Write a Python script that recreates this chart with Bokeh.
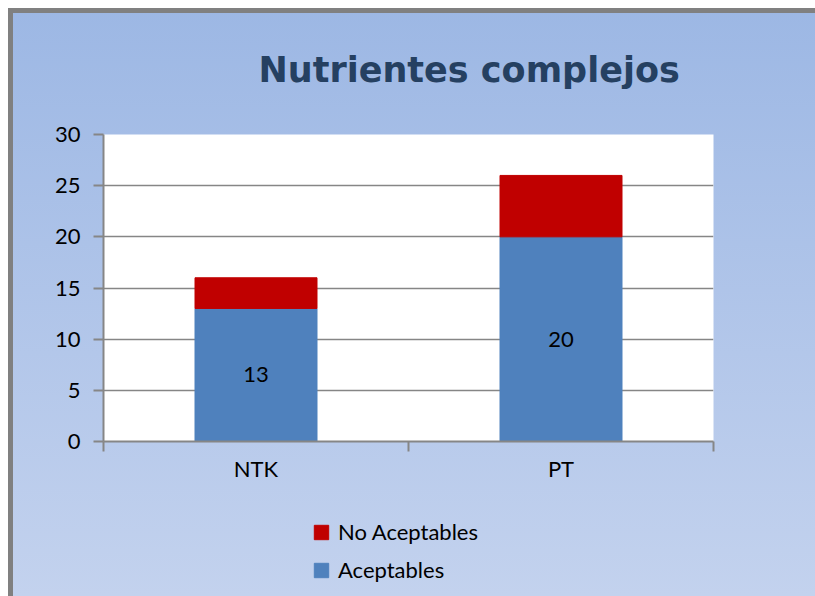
from bokeh.plotting import figure
from bokeh.layouts import column
from bokeh.models import Range1d, FixedTicker, Legend, LegendItem, ColumnDataSource
from bokeh.embed import file_html
from bokeh.resources import INLINE
from bokeh.core.properties import value

categories = ["NTK", "PT"]
aceptables = [13, 20]
no_aceptables = [3, 6]
y_ticks = [0, 5, 10, 15, 20, 25, 30]
series_names = ["Aceptables", "No Aceptables"]
series_colors = ["#4f81bd", "#c00000"]

FONT = "Lato"
GRAY = "#868686"

x = [i + 0.5 for i in range(len(categories))]
src = ColumnDataSource(dict(
    x=x,
    acc=aceptables,
    noacc=no_aceptables,
    mid=[a / 2 for a in aceptables],
    lbl=[str(a) for a in aceptables],
))

p = figure(width=815, height=490, output_backend="svg", toolbar_location=None,
           x_range=Range1d(0, len(categories)), y_range=Range1d(0, 30),
           min_border_left=103, min_border_right=102, min_border_top=134,
           min_border_bottom=49)

p.border_fill_color = None
p.background_fill_color = "white"
p.outline_line_color = None

p.title.text = "Nutrientes complejos"
p.title.align = "left"
p.title.offset = 155
p.title.text_font = "DejaVu Sans"
p.title.text_font_style = "bold"
p.title.text_font_size = "35px"
p.title.text_color = "#254061"
p.title.standoff = 90

rs = p.vbar_stack(["acc", "noacc"], x="x", width=0.4,
                  color=series_colors, source=src)

p.text(x="x", y="mid", text="lbl", source=src, text_align="center",
       text_baseline="middle", text_font=value(FONT), text_font_size="22px",
       text_color="black")

xa = p.xaxis[0]
xa.ticker = FixedTicker(ticks=x, minor_ticks=list(range(len(categories) + 1)))
xa.major_label_overrides = {xi: c for xi, c in zip(x, categories)}
xa.major_tick_out = 0
xa.major_tick_in = 0
xa.minor_tick_out = 10
xa.minor_tick_in = 0
xa.minor_tick_line_color = GRAY
xa.minor_tick_line_width = 2
xa.axis_line_color = GRAY
xa.axis_line_width = 2
xa.major_label_standoff = 3
xa.major_label_text_font = FONT
xa.major_label_text_font_size = "22px"
xa.major_label_text_color = "black"

ya = p.yaxis[0]
ya.ticker = FixedTicker(ticks=y_ticks, minor_ticks=[])
ya.major_tick_out = 10
ya.major_tick_in = 0
ya.minor_tick_out = 0
ya.minor_tick_in = 0
ya.major_tick_line_color = GRAY
ya.major_tick_line_width = 2
ya.axis_line_color = GRAY
ya.axis_line_width = 2
ya.major_label_standoff = 13
ya.major_label_text_font = FONT
ya.major_label_text_font_size = "22px"
ya.major_label_text_color = "black"

p.xgrid.visible = False
p.ygrid.grid_line_color = GRAY
p.ygrid.grid_line_width = 1.5

# legend strip below the chart (hidden copies of the stacks supply the swatches)
lp = figure(width=815, height=106, output_backend="svg", toolbar_location=None,
            title=None, x_axis_location=None, y_axis_location=None,
            min_border=0, x_range=Range1d(0, 1), y_range=Range1d(0, 1))
lp.border_fill_color = None
lp.background_fill_color = None
lp.outline_line_color = None
lp.grid.visible = False

swatches = lp.vbar_stack(["acc", "noacc"], x="x", width=0.4,
                         color=series_colors, source=src)
for r in swatches:
    r.visible = False

legend = Legend(items=[LegendItem(label=series_names[1], renderers=[swatches[1]]),
                       LegendItem(label=series_names[0], renderers=[swatches[0]])],
                location=(209, 13), background_fill_alpha=0,
                border_line_color=None, padding=0, margin=0,
                glyph_width=18, glyph_height=18, label_standoff=8, spacing=11,
                label_text_font=FONT, label_text_font_size="22px",
                label_text_color="black")
lp.add_layout(legend, "center")

bg = ("linear-gradient(#ffffff, #ffffff) 0 0 / 100% 8px no-repeat, "
      "linear-gradient(#ffffff, #ffffff) 0 0 / 8px 100% no-repeat, "
      "linear-gradient(#808080, #808080) 0 0 / 100% 13px no-repeat, "
      "linear-gradient(#808080, #808080) 0 0 / 13px 100% no-repeat, "
      "linear-gradient(to bottom, #9cb7e4, #c3d2ee)")

layout = column(p, lp, spacing=0,
                styles={"background": bg, "vertical-align": "top",
                        "overflow": "hidden"})

open("out.html", "w").write(file_html(layout, INLINE))
